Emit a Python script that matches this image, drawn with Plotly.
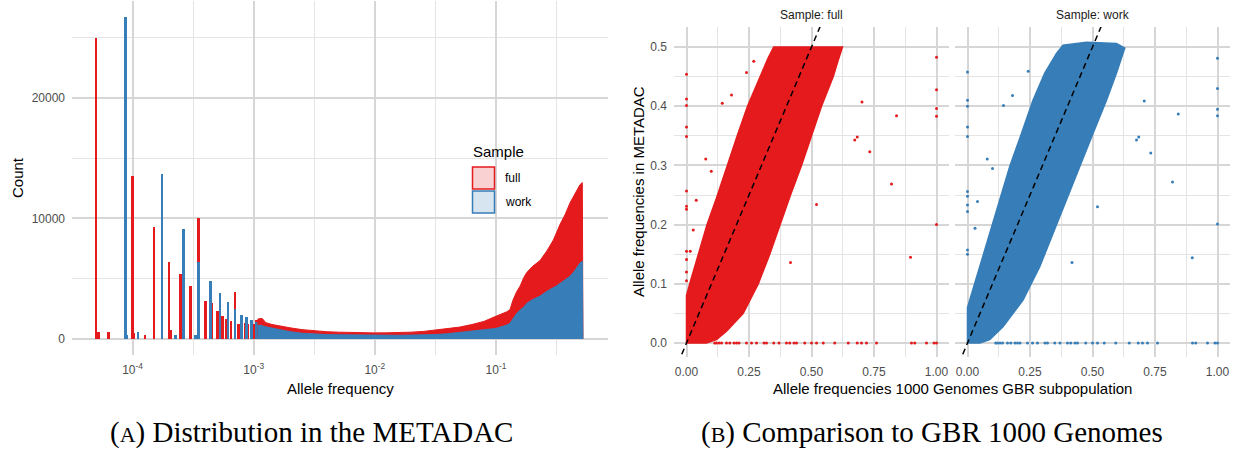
import numpy as np
import plotly.graph_objects as go

W, H = 1234, 450
def px(x): return x / W
def py(y): return 1 - y / H

RED = "#E41A1C"
BLUE = "#377EB8"
SANS = "Liberation Sans, Arial, sans-serif"
SERIF = "Liberation Serif, Times New Roman, serif"

# ---------------- (A) histogram data (allele frequency, count) ----------------
full_spike_af = [5.0e-5, 5.25e-5, 6.35e-5, 1.0e-4, 1.03e-4, 1.27e-4, 1.5e-4, 2.0e-4, 2.05e-4,
                 2.5e-4, 3.0e-4, 3.5e-4, 4.0e-4, 4.5e-4, 5.0e-4, 5.5e-4, 6.0e-4, 6.5e-4,
                 7.0e-4, 7.5e-4, 8.0e-4, 8.5e-4, 9.0e-4, 9.5e-4, 1.0e-3, 1.05e-3]
full_spike_count = [25000, 600, 600, 13500, 500, 330, 9300, 6400, 700,
                    5400, 4430, 10000, 3180, 2950, 2280, 1900, 1690, 1450,
                    3870, 1250, 1300, 1350, 1250, 1200, 1250, 1550]
work_spike_af = [8.77e-5, 8.95e-5, 1.106e-4, 1.754e-4, 2.25e-4, 2.63e-4, 3.3e-4, 3.51e-4,
                 4.39e-4, 5.26e-4, 6.14e-4, 7.02e-4, 7.89e-4, 8.77e-4, 9.65e-4, 1.052e-3]
work_spike_count = [26680, 300, 580, 13660, 330, 9090, 300, 6370,
                    4780, 3810, 3060, 2450, 2000, 1800, 1580, 1400]

# continuous part of the histogram (log10 allele frequency, count)
full_cont_log10 = [-2.965, -2.965, -2.93, -2.9, -2.85, -2.8, -2.7, -2.6, -2.5, -2.4, -2.3, -2.2,
                   -2.1, -2.0, -1.9, -1.8, -1.7, -1.6, -1.5, -1.4, -1.3, -1.2, -1.1, -1.0,
                   -0.967, -0.91, -0.884, -0.86, -0.83, -0.80, -0.77, -0.746, -0.70, -0.636,
                   -0.58, -0.526, -0.471, -0.43, -0.388, -0.35, -0.306, -0.287, -0.287,
                   -0.282, -0.282]
full_cont_count = [0, 1650, 1700, 1350, 1200, 1100, 920, 770, 660, 600, 560, 530,
                   510, 500, 505, 520, 560, 620, 720, 830, 980, 1190, 1450, 1880,
                   2020, 2250, 2430, 3200, 3900, 4400, 5100, 5500, 6000, 6500,
                   7300, 8200, 9500, 10300, 11300, 12000, 12800, 12970, 5290,
                   5290, 0]
work_cont_log10 = [-2.965, -2.965, -2.93, -2.9, -2.85, -2.8, -2.7, -2.6, -2.5, -2.4, -2.3, -2.2,
                   -2.1, -2.0, -1.9, -1.8, -1.7, -1.6, -1.5, -1.4, -1.3, -1.2, -1.1, -1.0,
                   -0.95, -0.91, -0.884, -0.86, -0.83, -0.80, -0.774, -0.745, -0.70, -0.636,
                   -0.58, -0.50, -0.45, -0.388, -0.35, -0.306, -0.287, -0.287, -0.282, -0.282]
work_cont_count = [0, 1150, 1100, 1000, 900, 800, 600, 470, 400, 360, 340, 320,
                   300, 290, 290, 300, 315, 330, 360, 430, 520, 640, 760, 870,
                   1000, 1150, 1300, 1700, 2100, 2400, 2600, 2950, 3250, 3550,
                   3950, 4400, 4750, 5200, 5650, 6300, 6450, 2710, 2710, 0]

hist_xticks = [-4, -3, -2, -1]
hist_xticktext = ["10<sup>-4</sup>", "10<sup>-3</sup>", "10<sup>-2</sup>", "10<sup>-1</sup>"]
hist_yticks = [0, 10000, 20000]

# ---------------- (B) scatter data ----------------
# outline of the dense point cloud (1000G GBR frequency, METADAC frequency)
band_full_x = [0, 0, 0.013, 0.047, 0.082, 0.12, 0.162, 0.203, 0.244, 0.293, 0.325, 0.349,
               0.624, 0.607, 0.587, 0.54, 0.5, 0.46, 0.416, 0.376, 0.333, 0.287, 0.227,
               0.16, 0.12, 0.08, 0]
band_full_y = [0, 0.08, 0.1, 0.15, 0.2, 0.245, 0.3, 0.35, 0.4, 0.45, 0.48, 0.5,
               0.5, 0.478, 0.45, 0.4, 0.35, 0.3, 0.25, 0.2, 0.15, 0.1, 0.05,
               0.02, 0.006, 0.0, 0]
band_work_x = [0, 0, 0.009, 0.049, 0.089, 0.129, 0.169, 0.216, 0.262, 0.309, 0.356, 0.382,
               0.476, 0.596, 0.629, 0.596, 0.556, 0.502, 0.449, 0.396, 0.342, 0.289, 0.222,
               0.142, 0.089, 0.049, 0]
band_work_y = [0, 0.06, 0.0726, 0.129, 0.185, 0.2416, 0.298, 0.354, 0.41, 0.456, 0.489, 0.503,
               0.508, 0.506, 0.498, 0.456, 0.41, 0.354, 0.298, 0.2416, 0.185, 0.129, 0.0726,
               0.0275, 0.0057, 0, 0]

# isolated points
full_out_x = [0, 0, 0, 0, 0, 0, 0, 0, 0, 0, 0, 0,
              0.269, 0.24, 0.18, 0.143, 0.077, 0.099, 0.039, 0.027, 0.015, 0.187,
              0.702, 0.84, 0.683, 0.673, 0.733, 0.52, 0.82, 0.896, 0.416,
              1.0, 1.0, 1.0, 1.0, 1.0,
              0.113, 0.12, 0.13, 0.14, 0.16, 0.173, 0.19, 0.2, 0.21, 0.24, 0.26, 0.28,
              0.31, 0.32, 0.349, 0.37, 0.40, 0.413, 0.43, 0.44, 0.473, 0.5, 0.52, 0.547,
              0.593, 0.647, 0.683, 0.7, 0.72, 0.76, 0.9, 0.913, 0.96, 0.99, 1.0]
full_out_y = [0.454, 0.412, 0.401, 0.365, 0.349, 0.257, 0.231, 0.226, 0.155, 0.141, 0.12, 0.105,
              0.476, 0.457, 0.419, 0.405, 0.311, 0.290, 0.241, 0.191, 0.155, 0.066,
              0.407, 0.384, 0.348, 0.343, 0.323, 0.234, 0.2685, 0.145, 0.136,
              0.4825, 0.428, 0.396, 0.383, 0.2,
              0, 0, 0, 0, 0, 0, 0, 0, 0, 0, 0, 0,
              0, 0, 0, 0, 0, 0, 0, 0, 0, 0, 0, 0,
              0, 0, 0, 0, 0, 0, 0, 0, 0, 0, 0]
work_out_x = [0, 0, 0, 0, 0, 0, 0, 0, 0, 0, 0,
              0.243, 0.18, 0.144, 0.079, 0.1, 0.04, 0.03, 0.185,
              0.707, 0.843, 0.685, 0.676, 0.733, 0.52, 0.82, 0.899, 0.418,
              1.0, 1.0, 1.0, 1.0, 1.0,
              0.113, 0.12, 0.13, 0.14, 0.16, 0.173, 0.19, 0.2, 0.21, 0.24, 0.26, 0.28,
              0.31, 0.32, 0.349, 0.37, 0.40, 0.413, 0.43, 0.44, 0.473, 0.5, 0.52, 0.547,
              0.593, 0.647, 0.683, 0.7, 0.72, 0.76, 0.9, 0.913, 0.96, 0.99, 1.0]
work_out_y = [0.458, 0.41, 0.4, 0.365, 0.349, 0.256, 0.248, 0.233, 0.222, 0.157, 0.15,
              0.459, 0.418, 0.401, 0.311, 0.295, 0.239, 0.194, 0.068,
              0.409, 0.387, 0.348, 0.343, 0.321, 0.23, 0.272, 0.144, 0.136,
              0.481, 0.43, 0.395, 0.384, 0.201,
              0, 0, 0, 0, 0, 0, 0, 0, 0, 0, 0, 0,
              0, 0, 0, 0, 0, 0, 0, 0, 0, 0, 0, 0,
              0, 0, 0, 0, 0, 0, 0, 0, 0, 0, 0]

abline_intercept = 0.0
abline_slope = 1.0

sc_xticks = [0, 0.25, 0.5, 0.75, 1.0]
sc_xticktext = ["0.00", "0.25", "0.50", "0.75", "1.00"]
sc_yticks = [0, 0.1, 0.2, 0.3, 0.4, 0.5]
sc_yticktext = ["0.0", "0.1", "0.2", "0.3", "0.4", "0.5"]

samples = ["full", "work"]

# ---------------- figure ----------------
fig = go.Figure()

# histogram: full first, work drawn over it
fig.add_trace(go.Bar(x=np.log10(full_spike_af), y=full_spike_count, width=0.022,
                     marker=dict(color=RED, line=dict(width=0)), xaxis="x", yaxis="y"))
fig.add_trace(go.Bar(x=np.log10(work_spike_af), y=work_spike_count, width=0.022,
                     marker=dict(color=BLUE, line=dict(width=0)), xaxis="x", yaxis="y"))
fig.add_trace(go.Scatter(x=full_cont_log10, y=full_cont_count, mode="lines", fill="tozeroy",
                         fillcolor=RED, line=dict(color=RED, width=1), xaxis="x", yaxis="y"))
fig.add_trace(go.Scatter(x=work_cont_log10, y=work_cont_count, mode="lines", fill="tozeroy",
                         fillcolor=BLUE, line=dict(color=BLUE, width=1), xaxis="x", yaxis="y"))

# scatter panels
for bx, by, ox, oy, col, xa, ya in [
    (band_full_x, band_full_y, full_out_x, full_out_y, RED, "x2", "y2"),
    (band_work_x, band_work_y, work_out_x, work_out_y, BLUE, "x3", "y3"),
]:
    fig.add_trace(go.Scatter(x=bx, y=by, mode="lines", fill="toself", fillcolor=col,
                             line=dict(color=col, width=1.5), xaxis=xa, yaxis=ya))
    fig.add_trace(go.Scatter(x=ox, y=oy, mode="markers",
                             marker=dict(color=col, size=3, line=dict(width=0)),
                             xaxis=xa, yaxis=ya, cliponaxis=False))
    xs = [-0.05, 1.05]
    fig.add_trace(go.Scatter(x=xs, y=[abline_intercept + abline_slope * v for v in xs],
                             mode="lines", line=dict(color="black", width=1.5, dash="6px,4px"),
                             xaxis=xa, yaxis=ya))

MAJ = dict(showgrid=True, gridcolor="#D6D6D6", gridwidth=1.5, zeroline=False,
           showline=False, ticks="", tickfont=dict(family=SANS, size=12, color="#4D4D4D"))
MINC = "#E4E4E4"

fig.update_layout(
    width=W, height=H, margin=dict(l=0, r=0, t=0, b=0),
    paper_bgcolor="white", plot_bgcolor="white", showlegend=False,
    barmode="overlay", bargap=0,
    xaxis=dict(domain=[px(72), px(608)], range=[-4.5, -0.075], anchor="y",
               tickmode="array", tickvals=hist_xticks, ticktext=hist_xticktext,
               minor=dict(tickmode="array", tickvals=[-4.5, -3.5, -2.5, -1.5, -0.5],
                          showgrid=True, gridcolor=MINC, gridwidth=1.2),
               ticklabelstandoff=6, **MAJ),
    yaxis=dict(domain=[py(355), py(1)], range=[-1335, 28035], anchor="x",
               tickmode="array", tickvals=hist_yticks, ticktext=[str(v) for v in hist_yticks],
               minor=dict(tickmode="array", tickvals=[5000, 15000, 25000],
                          showgrid=True, gridcolor=MINC, gridwidth=1.2),
               ticklabelstandoff=6, **MAJ),
    xaxis2=dict(domain=[px(674), px(949)], range=[-0.05, 1.05], anchor="y2",
                tickmode="array", tickvals=sc_xticks, ticktext=sc_xticktext,
                minor=dict(tickmode="array", tickvals=[0.125, 0.375, 0.625, 0.875],
                           showgrid=True, gridcolor=MINC, gridwidth=1.2),
                ticklabelstandoff=6, **MAJ),
    yaxis2=dict(domain=[py(357), py(27)], range=[-0.0236, 0.5338], anchor="x2",
                tickmode="array", tickvals=sc_yticks, ticktext=sc_yticktext,
                minor=dict(tickmode="array", tickvals=[0.05, 0.15, 0.25, 0.35, 0.45],
                           showgrid=True, gridcolor=MINC, gridwidth=1.2),
                ticklabelstandoff=6, **MAJ),
    xaxis3=dict(domain=[px(955), px(1230)], range=[-0.05, 1.05], anchor="y3",
                tickmode="array", tickvals=sc_xticks, ticktext=sc_xticktext,
                minor=dict(tickmode="array", tickvals=[0.125, 0.375, 0.625, 0.875],
                           showgrid=True, gridcolor=MINC, gridwidth=1.2),
                ticklabelstandoff=6, **MAJ),
    yaxis3=dict(domain=[py(357), py(27)], range=[-0.0236, 0.5338], anchor="x3",
                tickmode="array", tickvals=sc_yticks, showticklabels=False,
                minor=dict(tickmode="array", tickvals=[0.05, 0.15, 0.25, 0.35, 0.45],
                           showgrid=True, gridcolor=MINC, gridwidth=1.2),
                **MAJ),
)

ann = []
def add_text(text, x, y, size, color="black", angle=0, family=SANS, xanchor="center"):
    ann.append(dict(text=text, x=px(x), y=py(y), xref="paper", yref="paper",
                    xanchor=xanchor, yanchor="middle", showarrow=False, textangle=angle,
                    font=dict(family=family, size=size, color=color)))

add_text("Count", 17, 178, 15, angle=-90)
add_text("Allele frequency", 340, 388, 15)
add_text("Allele frequencies in METADAC", 638, 192, 15, angle=-90)
add_text("Allele frequencies 1000 Genomes GBR subpopulation", 952, 388, 15)
add_text("Sample: " + samples[0], 811.5, 15, 12, color="#1A1A1A")
add_text("Sample: " + samples[1], 1092.5, 15, 12, color="#1A1A1A")
# legend
add_text("Sample", 471, 152, 15, xanchor="left")
add_text(samples[0], 503, 178, 12, xanchor="left")
add_text(samples[1], 503, 202, 12, xanchor="left")
# captions
add_text("(<span style='font-size:22px'>A</span>) Distribution in the METADAC", 311, 432, 29,
         family=SERIF)
add_text("(<span style='font-size:22px'>B</span>) Comparison to GBR 1000 Genomes", 932, 432, 29,
         family=SERIF)

shapes = [
    dict(type="rect", xref="paper", yref="paper", x0=px(472.5), x1=px(494.5), y0=py(189), y1=py(167),
         fillcolor="#FAD1D2", line=dict(color=RED, width=1.5)),
    dict(type="rect", xref="paper", yref="paper", x0=px(472.5), x1=px(494.5), y0=py(213), y1=py(191),
         fillcolor="#D7E5F1", line=dict(color=BLUE, width=1.5)),
]
fig.update_layout(annotations=ann, shapes=shapes)

fig.write_html("out.html")
